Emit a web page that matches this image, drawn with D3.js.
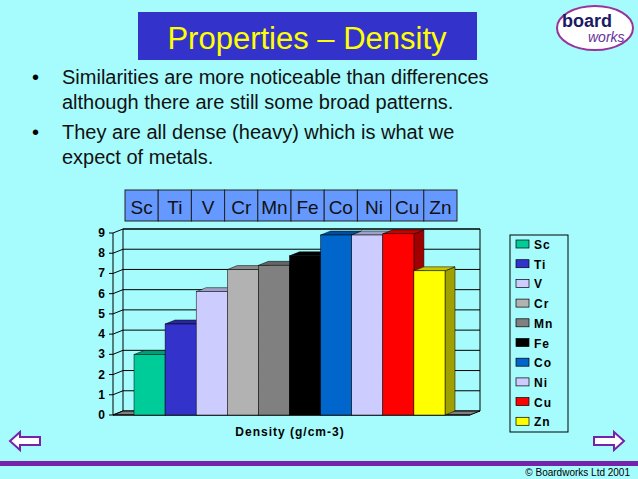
<!DOCTYPE html>
<html><head><meta charset="utf-8">
<script src="https://cdn.jsdelivr.net/npm/d3@7"></script>
<style>body{margin:0;background:#a6fcfd;} svg{display:block}</style>
</head><body>
<svg id="s" width="638" height="479"></svg>
<script>
const elements=['Sc','Ti','V','Cr','Mn','Fe','Co','Ni','Cu','Zn'];
const density=[2.99,4.5,6.1,7.19,7.4,7.87,8.9,8.9,8.96,7.13];
const colours=['#00cc99','#3333cc','#ccccff','#b2b2b2','#808080','#000000','#0066cc','#ccccff','#ff0000','#ffff00'];
const yTicks=[0,1,2,3,4,5,6,7,8,9];
const bullets=['Similarities are more noticeable than differences|although there are still some broad patterns.','They are all dense (heavy) which is what we|expect of metals.'];

const svg=d3.select('#s');
svg.append('rect').attr('width',638).attr('height',479).attr('fill','#a6fcfd');

// titulo
svg.append('rect').attr('x',138).attr('y',12).attr('width',339).attr('height',48).attr('fill','#3333cc');
svg.append('text').attr('x',307).attr('y',49).attr('text-anchor','middle').attr('font-family','Liberation Sans').attr('font-size',31).attr('fill','#ffff00').text('Properties – Density');

// logo
const lg=svg.append('g');
lg.append('ellipse').attr('cx',595).attr('cy',28).attr('rx',38).attr('ry',22).attr('fill','#fff').attr('stroke','#993399').attr('stroke-width',2);
lg.append('text').attr('x',562).attr('y',27).attr('font-family','Liberation Sans').attr('font-weight','bold').attr('font-size',18).attr('fill','#1a1a66').text('board');
lg.append('text').attr('x',588).attr('y',42).attr('font-family','Liberation Sans').attr('font-style','italic').attr('font-size',14).attr('fill','#663399').text('works');

// bullets
bullets.forEach((b,i)=>{
  const y0=84+i*55;
  svg.append('text').attr('x',32).attr('y',y0).attr('font-family','Liberation Sans').attr('font-size',20).text('•');
  b.split('|').forEach((l,j)=>svg.append('text').attr('x',62).attr('y',y0+j*25).attr('font-family','Liberation Sans').attr('font-size',20).attr('fill','#111').text(l));
});

// caixas dos elementos
const hx=d3.scaleBand().domain(elements).range([125,457]);
elements.forEach(e=>{
  svg.append('rect').attr('x',hx(e)).attr('y',190).attr('width',hx.bandwidth()).attr('height',31).attr('fill','#6699ff').attr('stroke','#222').attr('stroke-width',1);
  svg.append('text').attr('x',hx(e)+hx.bandwidth()/2).attr('y',214).attr('text-anchor','middle').attr('font-family','Liberation Sans').attr('font-size',19).attr('fill','#111').text(e);
});

// grafico 3d
const dx=10,dy=-4;
const y=d3.scaleLinear().domain([0,9]).range([415,233]);
const x=d3.scaleBand().domain(elements).range([134,445]);
const left=113,right=470;
const g=svg.append('g');
g.append('path').attr('d',`M${left+dx},${y(0)+dy}V${y(9)+dy}H${right+dx}V${y(0)+dy}`).attr('fill','none').attr('stroke','#000');
g.append('line').attr('x1',left).attr('x2',left).attr('y1',y(0)).attr('y2',y(9)).attr('stroke','#000');
yTicks.forEach(t=>{
  g.append('line').attr('x1',left+dx).attr('x2',right+dx).attr('y1',y(t)+dy).attr('y2',y(t)+dy).attr('stroke','#000');
  g.append('line').attr('x1',left).attr('x2',left+dx).attr('y1',y(t)).attr('y2',y(t)+dy).attr('stroke','#000');
  g.append('line').attr('x1',left-4).attr('x2',left).attr('y1',y(t)).attr('y2',y(t)).attr('stroke','#000');
  g.append('text').attr('x',left-8).attr('y',y(t)+4).attr('text-anchor','end').attr('font-family','Liberation Sans').attr('font-weight','bold').attr('font-size',12).text(t);
});
g.append('path').attr('d',`M${left},${y(0)}L${left+dx},${y(0)+dy}H${right+dx}L${right},${y(0)}Z`).attr('fill','#808080').attr('stroke','#000');
g.append('line').attr('x1',left).attr('x2',right).attr('y1',y(0)).attr('y2',y(0)).attr('stroke','#000');
const shade=(c,k)=>d3.color(c).darker(k).formatHex();
elements.forEach((e,i)=>{
  const x0=x(e),w=x.bandwidth(),yt=y(density[i]),yb=y(0);
  g.append('path').attr('d',`M${x0+w},${yb}L${x0+w+dx},${yb+dy}V${yt+dy}L${x0+w},${yt}Z`).attr('fill',shade(colours[i],1.3)).attr('stroke','#000').attr('stroke-width',0.5);
  g.append('path').attr('d',`M${x0},${yt}L${x0+dx},${yt+dy}H${x0+w+dx}L${x0+w},${yt}Z`).attr('fill',shade(colours[i],0.7)).attr('stroke','#000').attr('stroke-width',0.5);
  g.append('rect').attr('x',x0).attr('y',yt).attr('width',w).attr('height',yb-yt).attr('fill',colours[i]).attr('stroke','#000').attr('stroke-width',0.5);
});
g.append('text').attr('x',290).attr('y',436).attr('text-anchor','middle').attr('font-family','Liberation Sans').attr('font-weight','bold').attr('font-size',12).attr('letter-spacing',1).text('Density (g/cm-3)');

// legenda
svg.append('rect').attr('x',510).attr('y',235).attr('width',58).attr('height',197).attr('fill','#a6fcfd').attr('stroke','#000');
elements.forEach((e,i)=>{
  const ly=245+i*19.7;
  svg.append('rect').attr('x',516).attr('y',ly-5).attr('width',13).attr('height',8).attr('fill',colours[i]).attr('stroke','#000').attr('stroke-width',0.7);
  svg.append('text').attr('x',534).attr('y',ly+4).attr('font-family','Liberation Sans').attr('font-weight','bold').attr('font-size',12).attr('letter-spacing',1).text(e);
});

// setas e rodape
const arrow=(x0,dir)=>{
  const p=dir>0?`M${x0},437H${x0+20}V432L${x0+30},441L${x0+20},450V445H${x0}Z`:`M${x0+30},437H${x0+10}V432L${x0},441L${x0+10},450V445H${x0+30}Z`;
  svg.append('path').attr('d',p).attr('fill','#fff').attr('stroke','#7722aa').attr('stroke-width',2);
};
arrow(10,-1);arrow(594,1);
svg.append('rect').attr('x',0).attr('y',461).attr('width',638).attr('height',5).attr('fill','#7722aa');
svg.append('text').attr('x',630).attr('y',476).attr('text-anchor','end').attr('font-family','Liberation Sans').attr('font-size',10).text('© Boardworks Ltd 2001');
</script>
</body></html>
